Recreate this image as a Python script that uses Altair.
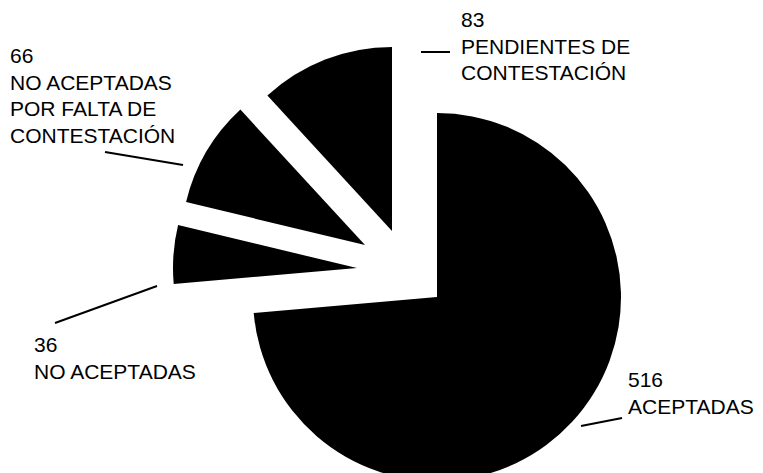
import altair as alt
import pandas as pd

# ---- data ----
categories = [
    "ACEPTADAS",
    "NO ACEPTADAS",
    "NO ACEPTADAS\nPOR FALTA DE\nCONTESTACIÓN",
    "PENDIENTES DE\nCONTESTACIÓN",
]
values = [516, 36, 66, 83]

# ---- style / layout (pixels in the view) ----
CX, CY = 429, 289          # pie centre
RADIUS = 184
explode_dx = [0, -80, -72, -45]
explode_dy = [0, -29, -52, -66]
label_x = [620, 26, 2, 453]
label_y = [379, 344, 55, 19]        # baseline of first line
leader_x1 = [573, 47, 97, 413]
leader_y1 = [418, 315, 144, 44]
leader_x2 = [614, 149, 175, 442]
leader_y2 = [410, 278, 157, 44]

df = pd.DataFrame({
    "idx": list(range(len(values))),
    "cat": categories,
    "value": values,
    "dx": explode_dx,
    "dy": explode_dy,
    "lx": label_x,
    "ly": label_y,
    "x1": leader_x1,
    "y1": leader_y1,
    "x2": leader_x2,
    "y2": leader_y2,
})

base = alt.Chart(df).transform_calculate(
    px=f"{CX} + datum.dx",
    py=f"{CY} + datum.dy",
    label="datum.value + '\\n' + datum.cat",
)

arcs = base.mark_arc(radius=RADIUS, color="black", stroke=None).encode(
    theta=alt.Theta("value:Q", stack=True),
    order=alt.Order("idx:Q", sort="ascending"),
    x=alt.X("px:Q", scale=None, axis=None),
    y=alt.Y("py:Q", scale=None, axis=None),
)

leaders = base.mark_rule(color="black", strokeWidth=2).encode(
    x=alt.X("x1:Q", scale=None, axis=None),
    y=alt.Y("y1:Q", scale=None, axis=None),
    x2="x2:Q",
    y2="y2:Q",
)

labels = base.mark_text(
    align="left",
    baseline="alphabetic",
    font="Liberation Sans",
    fontSize=21,
    lineBreak="\n",
    lineHeight=26.5,
    color="black",
).encode(
    x=alt.X("lx:Q", scale=None, axis=None),
    y=alt.Y("ly:Q", scale=None, axis=None),
    text="label:N",
)

chart = alt.layer(arcs, leaders, labels).properties(
    width=747,
    height=465,
    padding=0,
    autosize=alt.AutoSizeParams(type="none"),
    background="white",
).configure_view(stroke=None)

chart.save("out.html", embed_options={"renderer": "svg", "actions": False})
